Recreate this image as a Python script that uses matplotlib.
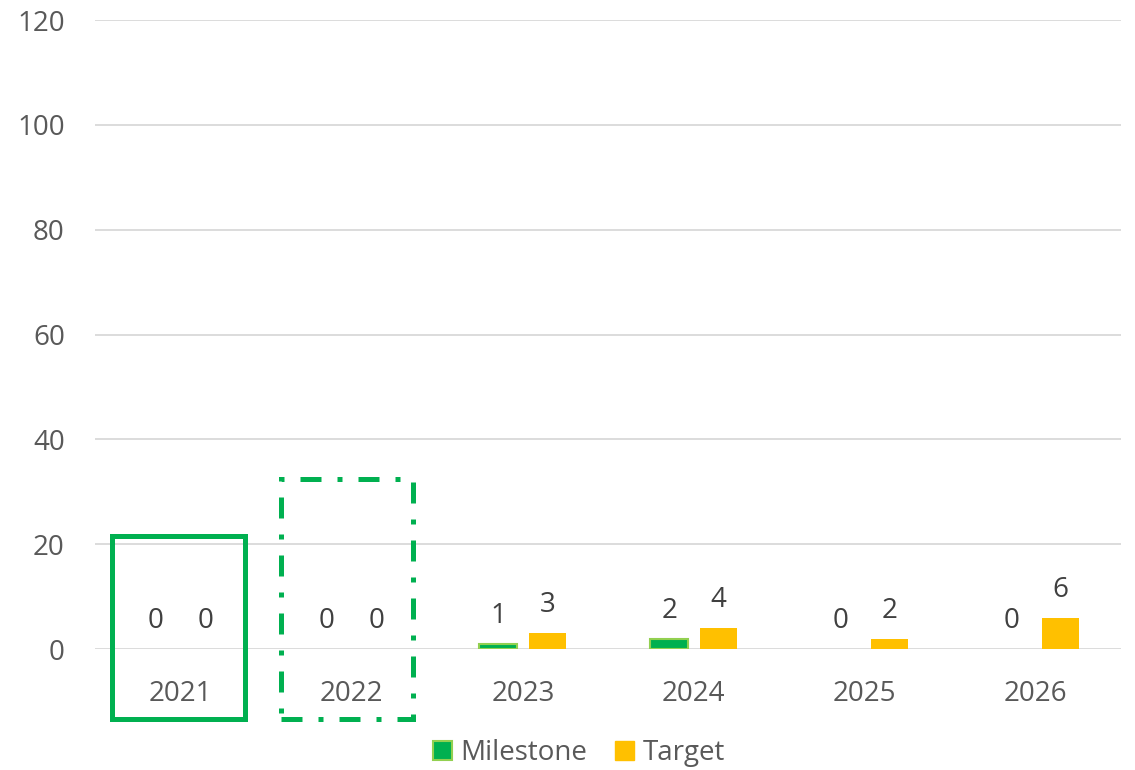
import matplotlib
matplotlib.use("Agg")
import matplotlib.pyplot as plt
import numpy as np
from matplotlib.patches import Rectangle, Patch

plt.rcParams["font.family"] = ["Open Sans", "DejaVu Sans"]

years = ["2021", "2022", "2023", "2024", "2025", "2026"]
milestone = [0, 0, 1, 2, 0, 0]
target = [0, 0, 3, 4, 2, 6]

green = "#00B050"
green_edge = "#92D050"
gold = "#FFC000"
text_col = "#595959"
fs = 20

fig = plt.figure(figsize=(11.35, 7.7), dpi=100)
ax = fig.add_axes([0.084, 0.157, 0.904, 0.817])

x = np.arange(len(years))
w = 0.22
off = 0.145
m_lw = [1.5 if v > 0 else 0 for v in milestone]
ax.bar(x - off, milestone, w, color=green, edgecolor=green_edge, linewidth=m_lw, zorder=3)
ax.bar(x + off, target, w, color=gold, linewidth=0, zorder=3)

for xi, m, t in zip(x, milestone, target):
    ax.annotate(str(m), (xi - off, m), xytext=(0, 28), textcoords="offset pixels",
                ha="center", va="center", fontsize=fs, color="#404040")
    ax.annotate(str(t), (xi + off, t), xytext=(0, 28), textcoords="offset pixels",
                ha="center", va="center", fontsize=fs, color="#404040")

ax.set_xlim(-0.5, len(years) - 0.5)
ax.set_ylim(0, 120)
ax.set_yticks(range(0, 121, 20))
ax.set_xticks(x)
ax.set_xticklabels(years)
ax.tick_params(axis="both", length=0, labelsize=fs, labelcolor=text_col)
ax.tick_params(axis="x", pad=22)
ax.tick_params(axis="y", pad=22)
ax.grid(axis="y", color="#D9D9D9", linewidth=1.3, zorder=0)
ax.set_axisbelow(True)
for s in ax.spines.values():
    s.set_visible(False)

# highlight boxes around 2021 and 2022
ax.add_patch(Rectangle((-0.405, -13.4), 0.78, 35.0, fill=False, edgecolor=green,
                       linewidth=3.6, clip_on=False, zorder=4))
ax.add_patch(Rectangle((1 - 0.415, -13.4), 0.772, 45.8, fill=False, edgecolor=green,
                       linewidth=3.6, linestyle=(0, (4.2, 3.2, 1, 3.2)), clip_on=False, zorder=4))

handles = [Patch(facecolor=green, edgecolor=green_edge, linewidth=1.5, label="Milestone"),
           Patch(facecolor=gold, edgecolor=gold, label="Target")]
fig.legend(handles=handles, loc="center", bbox_to_anchor=(0.51, 0.022), ncol=2, frameon=False,
           fontsize=fs, labelcolor=text_col, handlelength=0.7, handleheight=0.7,
           handletextpad=0.3, columnspacing=1.0)

fig.savefig("out.png", dpi=100)
